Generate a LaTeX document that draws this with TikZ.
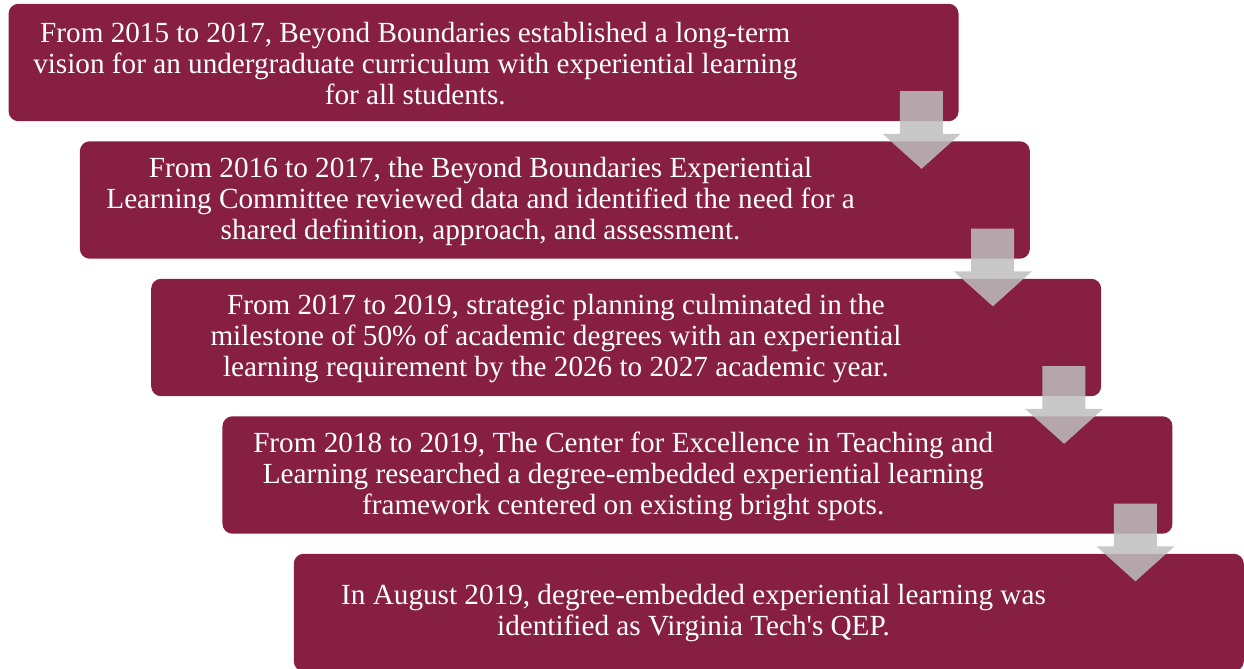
\documentclass[tikz,border=0pt]{standalone}
\usepackage{fontspec}
\newfontfamily\tnr{Liberation Serif}
\usetikzlibrary{calc}
\definecolor{vtmaroon}{RGB}{134,31,65}
\definecolor{arrgray}{RGB}{190,190,190}
\tikzset{
  stagebox/.style={fill=vtmaroon, draw=none, rounded corners=7.5pt, minimum width=712.5pt, minimum height=88.1pt, inner sep=0pt, anchor=north west},
  stagetext/.style={text=white, align=center, inner sep=0pt, font=\tnr\fontsize{21.9pt}{23.25pt}\selectfont},
  downarrow/.style={fill=arrgray, fill opacity=0.85, draw=none}
}
\newcommand{\stagearrow}[1]{%
  \fill[downarrow] ($(#1.south east)+(-59,-30.5)$) -- ($(#1.south east)+(-16,-30.5)$)
    -- ($(#1.south east)+(-16,12.3)$) -- ($(#1.south east)+(1.7,12.3)$)
    -- ($(#1.south east)+(-37.3,47.3)$) -- ($(#1.south east)+(-76.3,12.3)$)
    -- ($(#1.south east)+(-59,12.3)$) -- cycle;}
\begin{document}
\begin{tikzpicture}[x=0.75pt,y=-0.75pt]
\useasboundingbox (0,0) rectangle (1244,668);
\node[stagebox] (b1) at (8.3,3.5) {};
\node[stagebox] (b2) at (79.6,141) {};
\node[stagebox] (b3) at (150.9,278.5) {};
\node[stagebox] (b4) at (222.2,416) {};
\node[stagebox] (b5) at (293.5,553.5) {};
\node[stagetext] (t1) at ($(b1.west)+(407,1)$) {From 2015 to 2017, Beyond Boundaries established a long-term\\vision for an undergraduate curriculum with experiential learning\\for all students.};
\node[stagetext] (t2) at ($(b2.west)+(401,1)$) {From 2016 to 2017, the Beyond Boundaries Experiential\\Learning Committee reviewed data and identified the need for a\\shared definition, approach, and assessment.};
\node[stagetext] (t3) at ($(b3.west)+(405,1)$) {From 2017 to 2019, strategic planning culminated in the\\milestone of 50\% of academic degrees with an experiential\\learning requirement by the 2026 to 2027 academic year.};
\node[stagetext] (t4) at ($(b4.west)+(401,1)$) {From 2018 to 2019, The Center for Excellence in Teaching and\\Learning researched a degree-embedded experiential learning\\framework centered on existing bright spots.};
\node[stagetext] (t5) at ($(b5.west)+(400,1)$) {In August 2019, degree-embedded experiential learning was\\identified as Virginia Tech's QEP.};
\stagearrow{b1}
\stagearrow{b2}
\stagearrow{b3}
\stagearrow{b4}
\end{tikzpicture}
\end{document}
